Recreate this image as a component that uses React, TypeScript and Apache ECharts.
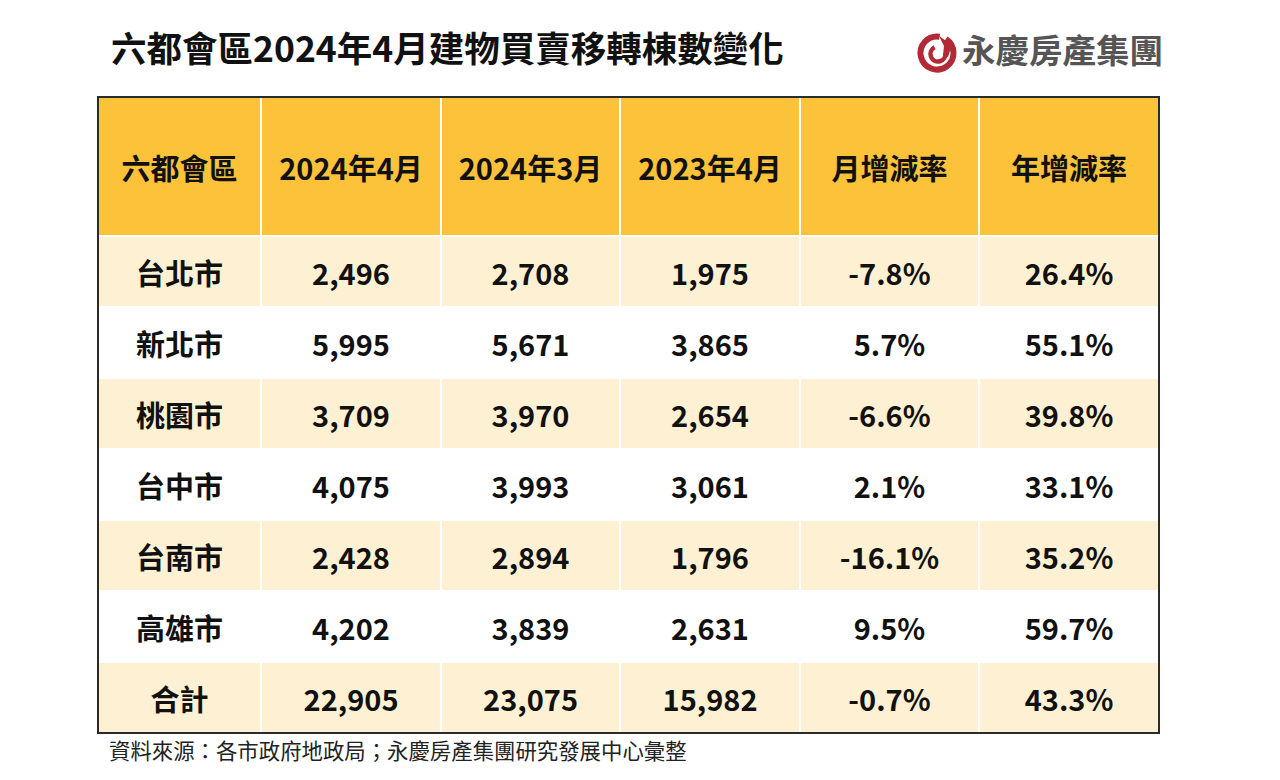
import React, { useEffect, useRef } from "react";
import * as echarts from "echarts";

const chartTitle = "六都會區2024年4月建物買賣移轉棟數變化";
const brandName = "永慶房產集團";
const sourceNote = "資料來源：各市政府地政局；永慶房產集團研究發展中心彙整";
const headers = ["六都會區", "2024年4月", "2024年3月", "2023年4月", "月增減率", "年增減率"];
const cities = ["台北市", "新北市", "桃園市", "台中市", "台南市", "高雄市", "合計"];
const apr2024 = [2496, 5995, 3709, 4075, 2428, 4202, 22905];
const mar2024 = [2708, 5671, 3970, 3993, 2894, 3839, 23075];
const apr2023 = [1975, 3865, 2654, 3061, 1796, 2631, 15982];
const momPct = [-7.8, 5.7, -6.6, 2.1, -16.1, 9.5, -0.7];
const yoyPct = [26.4, 55.1, 39.8, 33.1, 35.2, 59.7, 43.3];

// layout (relative widths / heights)
const colWeights = [163, 180, 179, 180, 179, 180];
const headerWeight = 139;
const rowWeight = 71;

const FONT = '"Noto Sans CJK TC", "Noto Sans CJK SC", sans-serif';
const HEADER_FILL = "#FBC23A";
const LIGHT_FILL = "#FEF0D2";
const WHITE_FILL = "#FFFFFF";
const LOGO_RED = "#B12A35";

const fmtInt = (v: number) => v.toLocaleString("en-US");
const fmtPct = (v: number) => v.toFixed(1) + "%";

const colEdges: number[] = [0];
colWeights.forEach((w) => colEdges.push(colEdges[colEdges.length - 1] + w));
const rowEdges: number[] = [0, headerWeight];
cities.forEach(() => rowEdges.push(rowEdges[rowEdges.length - 1] + rowWeight));
const totalW = colEdges[colEdges.length - 1];
const totalH = rowEdges[rowEdges.length - 1];

const cellText: string[][] = [headers];
cities.forEach((city, i) => {
  cellText.push([
    city,
    fmtInt(apr2024[i]),
    fmtInt(mar2024[i]),
    fmtInt(apr2023[i]),
    fmtPct(momPct[i]),
    fmtPct(yoyPct[i]),
  ]);
});

const cellData: number[][] = [];
cellText.forEach((row, r) => row.forEach((_, c) => cellData.push([c, r])));

export default function App() {
  const ref = useRef<HTMLDivElement>(null);
  useEffect(() => {
    if (!ref.current) return;
    const chart = echarts.init(ref.current, undefined, { renderer: "svg" });
    const option: any = {
      animation: false,
      backgroundColor: "#ffffff",
      grid: { left: 98, top: 97, width: 1061, height: 636 },
      xAxis: { type: "value", min: 0, max: totalW, show: false },
      yAxis: { type: "value", min: 0, max: totalH, inverse: true, show: false },
      graphic: [
        {
          type: "text",
          left: 111,
          top: 29,
          style: { text: chartTitle, font: `bold 35.5px ${FONT}`, fill: "#111" },
        },
        {
          type: "arc",
          shape: { cx: 937, cy: 53, r: 16.5, startAngle: -Math.PI * 0.32, endAngle: Math.PI * 1.55 },
          style: { stroke: LOGO_RED, lineWidth: 6, fill: "none" },
        },
        {
          type: "arc",
          shape: { cx: 938, cy: 54, r: 7.5, startAngle: -Math.PI * 0.05, endAngle: Math.PI * 1.35 },
          style: { stroke: LOGO_RED, lineWidth: 4.5, fill: "none" },
        },
        {
          type: "polygon",
          shape: { points: [[939, 36], [952, 45], [948, 57], [943, 55], [944, 46]] },
          style: { fill: LOGO_RED },
        },
        {
          type: "text",
          left: 962,
          top: 32,
          style: { text: brandName, font: `bold 33.5px ${FONT}`, fill: "#555" },
        },
        {
          type: "text",
          left: 109,
          top: 739,
          style: { text: sourceNote, font: `21.4px ${FONT}`, fill: "#222" },
        },
      ],
      series: [
        {
          type: "custom",
          coordinateSystem: "cartesian2d",
          data: cellData,
          z: 2,
          renderItem: (params: any, api: any) => {
            const c = api.value(0);
            const r = api.value(1);
            const p0 = api.coord([colEdges[c], rowEdges[r]]);
            const p1 = api.coord([colEdges[c + 1], rowEdges[r + 1]]);
            const fill = r === 0 ? HEADER_FILL : r % 2 === 1 ? LIGHT_FILL : WHITE_FILL;
            return {
              type: "group",
              children: [
                {
                  type: "rect",
                  shape: { x: p0[0], y: p0[1], width: p1[0] - p0[0], height: p1[1] - p0[1] },
                  style: { fill, stroke: "#ffffff", lineWidth: 2 },
                },
                {
                  type: "text",
                  x: (p0[0] + p1[0]) / 2,
                  y: (p0[1] + p1[1]) / 2,
                  style: {
                    text: cellText[r][c],
                    fill: "#111",
                    font: `bold 29px ${FONT}`,
                    align: "center",
                    verticalAlign: "middle",
                  },
                },
              ],
            };
          },
        },
        {
          type: "custom",
          coordinateSystem: "cartesian2d",
          data: [[0, 0]],
          z: 5,
          silent: true,
          renderItem: (params: any, api: any) => {
            const p0 = api.coord([0, 0]);
            const p1 = api.coord([totalW, totalH]);
            return {
              type: "rect",
              shape: { x: p0[0], y: p0[1], width: p1[0] - p0[0], height: p1[1] - p0[1] },
              style: { fill: "none", stroke: "#2b2b2b", lineWidth: 2 },
            };
          },
        },
      ],
    };
    chart.setOption(option);
    return () => chart.dispose();
  }, []);
  return (
    <div
      ref={ref}
      style={{ position: "absolute", left: 0, top: 0, width: 1280, height: 780, background: "#fff" }}
    />
  );
}
